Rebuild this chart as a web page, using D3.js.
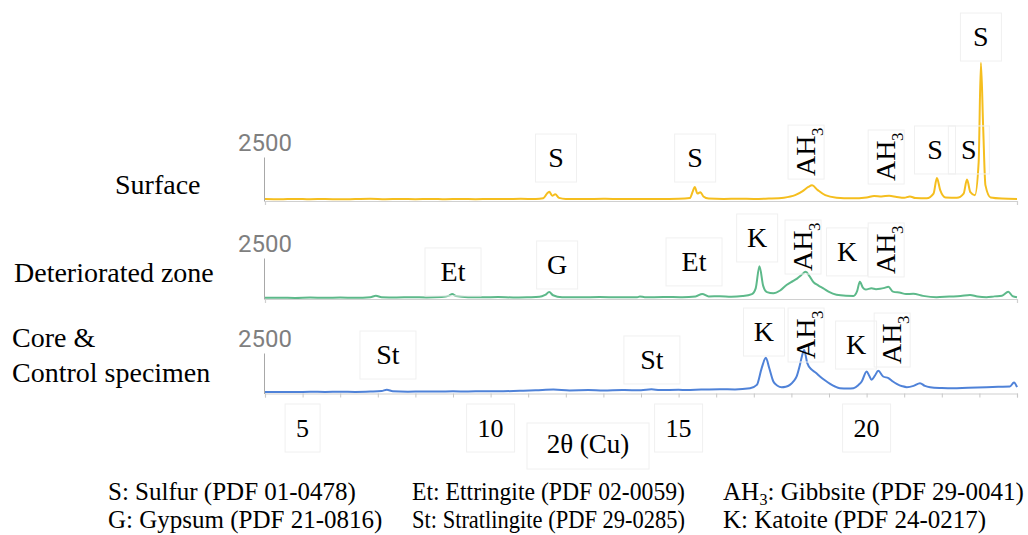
<!DOCTYPE html>
<html>
<head>
<meta charset="utf-8">
<script src="https://cdn.jsdelivr.net/npm/d3@7"></script>
</head>
<body style="margin:0">
<svg id="xrd" width="1028" height="535"></svg>
<script>
// XRD patterns of the surface, deteriorated zone and core of a specimen, 2θ (Cu)

const panelNames = ["Surface", "Deteriorated zone", "Core &|Control specimen"];

// [2θ, counts]
const surfaceXRD = [
  [4.0,110],[4.4,95],[4.8,120],[5.2,100],[5.6,115],[6.0,95],[6.4,110],[6.8,125],[7.2,100],[7.6,115],
  [8.0,105],[8.4,120],[8.8,100],[9.2,115],[9.6,105],[10.0,120],[10.4,110],[10.8,125],[11.2,115],[11.4,160],
  [11.5,420],[11.56,520],[11.64,300],[11.72,380],[11.82,180],[12.0,120],[12.5,110],[13.0,125],[13.5,115],[14.0,120],
  [14.5,110],[15.0,125],[15.3,170],[15.38,560],[15.43,800],[15.5,420],[15.58,500],[15.66,260],[15.8,140],[16.2,120],
  [16.6,130],[17.0,120],[17.4,140],[17.8,190],[18.1,330],[18.3,560],[18.45,800],[18.55,890],[18.7,620],[18.9,330],
  [19.2,190],[19.6,150],[20.0,200],[20.2,290],[20.4,260],[20.6,300],[20.8,230],[21.0,180],[21.15,260],[21.3,170],
  [21.6,160],[21.78,420],[21.87,1300],[21.96,600],[22.1,200],[22.4,180],[22.58,420],[22.67,1220],[22.76,500],[22.88,330],
  [22.98,2200],[23.04,7850],[23.1,4200],[23.16,900],[23.3,200],[23.6,140],[24.0,120]
];

const deterioratedXRD = [
  [4.0,70],[4.4,80],[4.8,65],[5.2,85],[5.6,70],[6.0,90],[6.4,75],[6.8,110],[6.95,200],[7.1,110],
  [7.5,90],[7.9,110],[8.3,95],[8.7,120],[8.9,210],[8.98,300],[9.08,180],[9.4,110],[9.8,100],[10.2,120],
  [10.6,95],[11.0,110],[11.3,130],[11.45,250],[11.56,420],[11.66,230],[11.9,110],[12.4,100],[12.9,115],[13.4,100],
  [13.9,110],[13.97,160],[14.1,105],[14.6,120],[15.1,110],[15.45,150],[15.63,310],[15.8,160],[16.1,170],[16.4,140],
  [16.7,180],[16.95,300],[17.05,650],[17.15,2000],[17.25,800],[17.35,420],[17.52,350],[17.7,520],[17.87,850],[18.05,1100],
  [18.16,1260],[18.26,1450],[18.38,1660],[18.48,1400],[18.58,1050],[18.72,820],[18.85,650],[19.0,430],[19.2,260],[19.45,200],
  [19.65,190],[19.75,500],[19.82,1050],[19.9,700],[19.98,580],[20.13,650],[20.25,600],[20.36,620],[20.48,680],[20.58,750],
  [20.7,450],[20.9,380],[21.05,300],[21.24,320],[21.5,190],[21.86,110],[22.2,150],[22.5,180],[22.75,250],[22.95,150],
  [23.19,110],[23.4,160],[23.6,200],[23.77,440],[23.88,180],[24.0,110]
];

const coreXRD = [
  [4.0,90],[4.4,100],[4.8,85],[5.2,110],[5.6,95],[6.0,115],[6.4,100],[6.8,120],[7.1,150],[7.24,230],
  [7.4,140],[7.8,115],[8.2,130],[8.6,120],[9.0,135],[9.4,125],[9.8,145],[10.2,135],[10.78,170],[11.2,200],
  [11.67,250],[12.1,190],[12.6,210],[13.0,180],[13.5,210],[14.0,200],[14.28,260],[14.5,210],[15.0,230],[15.21,215],
  [15.6,240],[16.1,260],[16.5,250],[16.9,320],[17.08,530],[17.21,1570],[17.32,2200],[17.41,1570],[17.52,740],[17.63,480],
  [17.74,390],[17.85,420],[17.96,530],[18.06,760],[18.14,1050],[18.22,1700],[18.28,2300],[18.34,2680],[18.42,1890],[18.54,1470],
  [18.65,1280],[18.76,1050],[18.9,800],[19.03,600],[19.16,430],[19.29,330],[19.5,310],[19.65,330],[19.78,520],[19.87,740],
  [20.0,1360],[20.07,1100],[20.13,850],[20.22,1100],[20.31,1400],[20.44,1050],[20.58,950],[20.7,740],[20.8,600],[20.95,450],
  [21.07,390],[21.25,470],[21.42,640],[21.55,470],[21.69,390],[22.0,340],[22.3,320],[22.7,360],[23.19,380],[23.5,410],
  [23.81,430],[23.92,680],[24.0,390]
];

// peak labels: [phase, 2θ, counts where the label sits]
const surfacePeaks = [
  ["S",11.74,2440],["S",15.44,2440],["AH{3}",18.39,2780],["AH{3}",20.52,2500],
  ["S",21.82,2900],["S",22.72,2900],["S",23.04,9315]
];
const deterioratedPeaks = [
  ["Et",9.0,1650],["G",11.77,2075],["Et",15.41,2260],["K",17.09,3720],
  ["AH{3}",18.31,3170],["K",19.48,2870],["AH{3}",20.52,2990]
];
const corePeaks = [
  ["St",7.27,2375],["St",14.29,2070],["K",17.27,3795],["AH{3}",18.39,3610],
  ["K",19.72,2990],["AH{3}",20.68,3300]
];

const xTicks = d3.range(4, 25);
const xTickLabels = [5, 10, 15, 20];
const yTickLabels = [2500];
const xTitle = "2θ (Cu)";

const legendItems = [
  "S: Sulfur (PDF 01-0478)", "Et: Ettringite (PDF 02-0059)", "AH{3}: Gibbsite (PDF 29-0041)",
  "G: Gypsum (PDF 21-0816)", "St: Stratlingite (PDF 29-0285)", "K: Katoite (PDF 24-0217)"
];

// ---- layout ----
const SERIF = '"Liberation Serif"';

const panels = [
  { name: panelNames[0], data: surfaceXRD, peaks: surfacePeaks, color: "#f5be1e", base: 201, top: 157, labelPos: [115, 194] },
  { name: panelNames[1], data: deterioratedXRD, peaks: deterioratedPeaks, color: "#5db98a", base: 299, top: 258, labelPos: [14, 282] },
  { name: panelNames[2], data: coreXRD, peaks: corePeaks, color: "#4f82d8", base: 393.5, top: 353, labelPos: [12, 347] }
];

const x = d3.scaleLinear([4, 24], [265, 1017]);
const svg = d3.select("svg#xrd");
const marks = svg.append("g");

// every text is a plain <text> straight under the svg, no tspans
function label(px, py, str, size, extra) {
  const t = svg.append("text")
    .attr("x", px)
    .attr("y", py)
    .style("font-family", SERIF)
    .style("font-size", `${size}px`)
    .text(str);
  if (extra) extra(t);
  return t;
}

function faintBox(cx, cy, w, h) {
  marks.append("rect")
    .attr("x", cx - w / 2)
    .attr("y", cy - h / 2)
    .attr("width", w)
    .attr("height", h)
    .attr("fill", "none")
    .attr("stroke", "#f0f0f0");
}

panels.forEach((p, i) => {
  const y = d3.scaleLinear([0, 2500], [p.base, p.top]);

  // baseline, with 1-unit ticks on the last panel
  marks.append("g")
    .attr("transform", `translate(0, ${p.base})`)
    .call(
      d3.axisBottom(x)
        .tickValues(i === 2 ? xTicks : [])
        .tickSizeOuter(0)
        .tickSize(4)
        .tickFormat(() => "")
    )
    .call(a => a.select(".domain").attr("stroke", "#d0d0d0").attr("stroke-width", 1.2))
    .call(a => a.selectAll(".tick line").attr("stroke", "#c8c8c8"));

  // y axis line
  marks.append("g")
    .attr("transform", `translate(${x(4) - 1}, 0)`)
    .call(d3.axisLeft(y).tickValues(yTickLabels).tickSize(0).tickSizeOuter(0).tickFormat(() => ""))
    .call(a => a.select(".domain").attr("stroke", "#a8a8a8"));

  // the 2500 label sits above the axis line
  yTickLabels.forEach(v =>
    svg.append("text")
      .attr("x", x(4))
      .attr("y", y(v) - 6)
      .attr("text-anchor", "middle")
      .attr("fill", "#7f7f7f")
      .style("font-family", '"Roboto"')
      .style("font-size", "24px")
      .text(v)
  );

  // pattern
  marks.append("path")
    .datum(p.data)
    .attr("fill", "none")
    .attr("stroke", p.color)
    .attr("stroke-width", 2)
    .attr("stroke-linejoin", "round")
    .attr("d", d3.line(d => x(d[0]), d => y(d[1])).curve(d3.curveMonotoneX));

  // panel name
  p.name.split("|").forEach((l, k) => label(p.labelPos[0], p.labelPos[1] + k * 35, l, 28));

  // peak labels
  p.peaks.forEach(([lab, t, c]) => {
    const cx = x(t), cy = y(c);
    if (lab.includes("{")) {
      const main = lab.replace(/\{.*\}/, ""), sub = lab.match(/\{(.*)\}/)[1];
      // reads upwards; subscript ends up on the right
      label(-24, 9, main, 28, s => s.attr("transform", `translate(${cx}, ${cy}) rotate(-90)`));
      label(16, 17, sub, 17, s => s.attr("transform", `translate(${cx}, ${cy}) rotate(-90)`));
      faintBox(cx, cy, 36, 54);
    } else {
      label(cx, cy + 9, lab, 28, s => s.attr("text-anchor", "middle"));
      faintBox(cx, cy, 26 + 15 * lab.length, 48);
    }
  });
});

// 2θ tick labels
xTickLabels.forEach(v => {
  label(x(v), 437, v, 26, s => s.attr("text-anchor", "middle"));
  faintBox(x(v), 428, 22 + 13 * String(v).length, 48);
});

// x title
label(588, 453, xTitle, 27, s => s.attr("text-anchor", "middle"));
faintBox(588, 446, 122, 46);

// legend (middle column is squeezed a little in the original)
const legendCols = [108, 412, 723];
const legendRowsY = [500, 528];
legendItems.forEach((item, i) => {
  const lx = legendCols[i % 3], ly = legendRowsY[Math.floor(i / 3)];
  if (item.includes("{")) {
    const [head, rest] = item.split(/\{.*?\}/);
    const sub = item.match(/\{(.*?)\}/)[1];
    label(lx, ly, head, 25);
    label(lx + 36.5, ly + 5, sub, 16);
    label(lx + 44.5, ly, rest, 25);
  } else {
    label(lx, ly, item, 25, s => {
      if (i % 3 === 1) s.attr("textLength", 273).attr("lengthAdjust", "spacingAndGlyphs");
    });
  }
});
</script>
</body>
</html>
